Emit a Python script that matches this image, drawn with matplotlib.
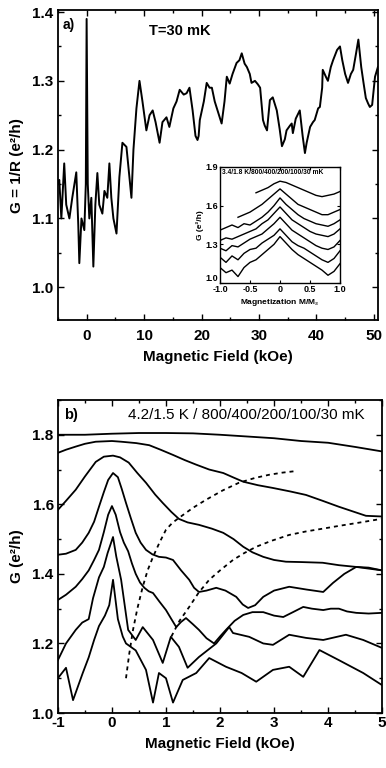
import matplotlib
matplotlib.use("Agg")
import matplotlib.pyplot as plt
from matplotlib.ticker import MultipleLocator

plt.rcParams['font.family'] = ['Liberation Sans', 'DejaVu Sans']

# ---------------- panel a: T = 30 mK, wide field sweep ----------------
field_a = [-5.03, -4.76, -4.4, -3.9, -3.55, -3.0, -2.5, -1.8, -1.45, -1.27, -0.9, -0.4,
           -0.14, 0.0, 0.2, 0.47, 0.82, 1.17, 1.52, 1.87, 2.2, 2.74, 3.1, 3.6, 3.96, 4.3,
           4.66, 5.2, 5.7, 6.23, 6.93, 7.45, 7.8, 8.15, 8.67, 9.2, 9.72, 10.4, 10.95, 11.5,
           12.0, 12.7, 13.2, 13.9, 14.4, 15.1, 15.65, 16.2, 16.9, 17.4, 17.9, 18.45, 18.95,
           19.3, 19.5, 19.7, 20.4, 20.9, 21.4, 21.8, 22.3, 22.6, 23.5, 24.0, 24.4, 24.9,
           25.4, 26.1, 26.6, 27.0, 27.5, 27.9, 28.4, 28.7, 29.3, 29.8, 30.2, 30.7, 31.0,
           31.4, 31.9, 32.4, 33.1, 33.6, 34.0, 34.5, 34.8, 35.4, 35.7, 35.9, 36.4, 37.1,
           37.6, 38.0, 38.3, 38.9, 39.4, 39.7, 40.3, 40.6, 41.0, 41.1, 41.7, 42.0, 42.5,
           42.9, 43.6, 44.1, 44.5, 45.0, 45.5, 46.0, 46.4, 46.9, 47.3, 47.8, 48.2, 48.6,
           49.0, 49.3, 49.7, 50.2, 50.7]
g_a = [1.15, 1.156, 1.10, 1.18, 1.12, 1.10, 1.13, 1.167, 1.09, 1.035, 1.10, 1.083,
       1.15, 1.39, 1.15, 1.10, 1.13, 1.03, 1.12, 1.166, 1.12, 1.107, 1.14, 1.13, 1.18, 1.13,
       1.10, 1.078, 1.16, 1.21, 1.204, 1.16, 1.13, 1.20, 1.26, 1.30, 1.27, 1.228, 1.25, 1.257,
       1.24, 1.21, 1.24, 1.247, 1.233, 1.26, 1.27, 1.287, 1.28, 1.282, 1.29, 1.257, 1.22,
       1.214, 1.22, 1.243, 1.27, 1.297, 1.29, 1.29, 1.27, 1.262, 1.238, 1.27, 1.306, 1.296,
       1.31, 1.326, 1.33, 1.34, 1.325, 1.32, 1.31, 1.297, 1.30, 1.295, 1.29, 1.243, 1.235,
       1.228, 1.272, 1.276, 1.257, 1.23, 1.205, 1.215, 1.228, 1.235, 1.238, 1.224, 1.245, 1.257,
       1.22, 1.195, 1.21, 1.233, 1.24, 1.243, 1.26, 1.262, 1.29, 1.316, 1.305, 1.30, 1.32,
       1.33, 1.345, 1.35, 1.33, 1.31, 1.297, 1.31, 1.316, 1.34, 1.36, 1.32, 1.297, 1.275,
       1.267, 1.262, 1.265, 1.306, 1.32]

# ---------------- inset: G vs magnetization ----------------
m_34 = [-0.4, -0.3, -0.2, -0.1, 0.0, 0.1, 0.2, 0.3, 0.4, 0.5, 0.6, 0.7, 0.8, 0.9, 1.0]
g_34 = [1.70, 1.72, 1.74, 1.77, 1.79, 1.78, 1.76, 1.74, 1.72, 1.70, 1.68, 1.67, 1.68, 1.69, 1.71]
m_18 = [-0.7, -0.6, -0.5, -0.4, -0.3, -0.2, -0.1, 0.0, 0.1, 0.2, 0.3, 0.4, 0.5, 0.6, 0.7, 0.8, 0.9, 1.0]
g_18 = [1.51, 1.53, 1.55, 1.58, 1.61, 1.65, 1.69, 1.73, 1.69, 1.65, 1.61, 1.59, 1.57, 1.55, 1.53, 1.53, 1.55, 1.57]
m_in = [-1.0, -0.9, -0.8, -0.7, -0.6, -0.5, -0.4, -0.3, -0.2, -0.1, 0.0,
        0.1, 0.2, 0.3, 0.4, 0.5, 0.6, 0.7, 0.8, 0.9, 1.0]
g_in_800 = [1.41, 1.43, 1.45, 1.43, 1.46, 1.45, 1.48, 1.51, 1.55, 1.60, 1.66, 1.61, 1.57, 1.53, 1.50, 1.48, 1.46, 1.45, 1.44, 1.46, 1.49]
g_in_400 = [1.33, 1.35, 1.34, 1.36, 1.38, 1.40, 1.42, 1.46, 1.49, 1.54, 1.59, 1.54, 1.49, 1.46, 1.43, 1.40, 1.38, 1.37, 1.36, 1.38, 1.42]
g_in_200 = [1.27, 1.25, 1.29, 1.28, 1.31, 1.34, 1.36, 1.38, 1.42, 1.46, 1.51, 1.46, 1.41, 1.38, 1.35, 1.32, 1.29, 1.27, 1.26, 1.28, 1.33]
g_in_100 = [1.20, 1.16, 1.21, 1.18, 1.23, 1.26, 1.27, 1.31, 1.34, 1.37, 1.42, 1.37, 1.32, 1.29, 1.27, 1.24, 1.21, 1.18, 1.16, 1.19, 1.25]
g_in_30 = [1.12, 1.08, 1.10, 1.05, 1.12, 1.16, 1.18, 1.22, 1.26, 1.30, 1.36, 1.31, 1.26, 1.22, 1.19, 1.16, 1.13, 1.10, 1.06, 1.09, 1.15]

# ---------------- panel b: temperature series ----------------
h_42 = [-1.0, -0.5, 0.0, 0.5, 1.0, 1.5, 2.0, 2.5, 3.0, 3.5, 4.0, 4.5, 5.0]
g_42 = [1.800, 1.800, 1.803, 1.805, 1.805, 1.804, 1.800, 1.795, 1.790, 1.782, 1.777, 1.765, 1.752]
h_15 = [-1.0, -0.85, -0.67, -0.5, -0.3, 0.0, 0.17, 0.45, 0.69, 0.9, 1.13, 1.35, 1.56, 1.8, 2.06,
        2.25, 2.43, 2.7, 2.98, 3.3, 3.59, 3.9, 4.2, 4.45, 4.7, 5.0]
g_15 = [1.748, 1.757, 1.766, 1.774, 1.78, 1.782, 1.78, 1.776, 1.77, 1.757, 1.742, 1.727, 1.714, 1.70, 1.69,
        1.677, 1.665, 1.655, 1.647, 1.637, 1.627, 1.61, 1.593, 1.58, 1.567, 1.565]
h_800 = [-1.0, -0.85, -0.67, -0.5, -0.30, -0.15, 0.02, 0.15, 0.31, 0.47, 0.63, 0.8, 0.94, 1.1, 1.24,
         1.4, 1.61, 1.85, 2.06, 2.25, 2.43, 2.6, 2.80, 3.0, 3.22, 3.5, 3.9, 4.2, 4.52, 5.0]
g_800 = [1.584, 1.61, 1.642, 1.68, 1.722, 1.737, 1.74, 1.735, 1.72, 1.69, 1.662, 1.628, 1.604, 1.578, 1.558,
         1.548, 1.541, 1.53, 1.518, 1.50, 1.478, 1.462, 1.449, 1.44, 1.435, 1.434, 1.432, 1.425, 1.42, 1.41]
h_400 = [-1.0, -0.85, -0.67, -0.55, -0.43, -0.33, -0.24, -0.15, -0.07, 0.02, 0.11, 0.18, 0.26, 0.35,
         0.44, 0.53, 0.63, 0.75, 0.87, 1.0, 1.13, 1.28, 1.43, 1.52, 1.61, 1.75, 1.93, 2.1, 2.30,
         2.42, 2.52, 2.65, 2.80, 3.0, 3.28, 3.6, 3.91, 4.09, 4.3, 4.52, 4.75, 5.0]
g_400 = [1.455, 1.458, 1.469, 1.49, 1.518, 1.55, 1.593, 1.635, 1.67, 1.69, 1.678, 1.645, 1.604, 1.56,
         1.518, 1.49, 1.469, 1.456, 1.449, 1.447, 1.44, 1.41, 1.383, 1.36, 1.348, 1.352, 1.36, 1.352, 1.334,
         1.312, 1.302, 1.31, 1.334, 1.352, 1.363, 1.355, 1.348, 1.374, 1.40, 1.42, 1.418, 1.41]
h_200 = [-1.0, -0.85, -0.67, -0.55, -0.43, -0.33, -0.24, -0.15, -0.07, 0.0, 0.07, 0.15, 0.22, 0.3,
         0.37, 0.44, 0.52, 0.6, 0.68, 0.76, 0.88, 1.0, 1.1, 1.19, 1.28, 1.37, 1.5, 1.61, 1.75, 1.89,
         2.0, 2.11, 2.27, 2.43, 2.6, 2.80, 3.0, 3.17, 3.35, 3.54, 3.7, 3.91, 4.05, 4.2, 4.35, 4.52,
         4.75, 5.0]
g_200 = [1.325, 1.34, 1.363, 1.385, 1.41, 1.44, 1.469, 1.52, 1.57, 1.595, 1.57, 1.52, 1.49, 1.465,
         1.43, 1.40, 1.375, 1.36, 1.35, 1.345, 1.32, 1.296, 1.27, 1.247, 1.262, 1.273, 1.255, 1.239, 1.215, 1.20,
         1.22, 1.239, 1.265, 1.282, 1.29, 1.29, 1.28, 1.276, 1.29, 1.305, 1.30, 1.296, 1.30, 1.30, 1.292, 1.288,
         1.286, 1.288]
h_100 = [-1.0, -0.85, -0.67, -0.55, -0.43, -0.35, -0.24, -0.15, -0.08, 0.02, 0.08, 0.17, 0.3, 0.44,
         0.57, 0.76, 0.94, 1.09, 1.24, 1.4, 1.61, 1.93, 2.17, 2.24, 2.54, 2.8, 2.98, 3.28, 3.59,
         3.91, 4.33, 4.65, 5.0]
g_100 = [1.152, 1.20, 1.239, 1.26, 1.27, 1.33, 1.39, 1.42, 1.46, 1.506, 1.45, 1.383, 1.239, 1.21,
         1.247, 1.21, 1.144, 1.219, 1.19, 1.13, 1.161, 1.20, 1.247, 1.23, 1.219, 1.20, 1.196, 1.225, 1.216,
         1.21, 1.225, 1.21, 1.187]
h_30 = [-1.0, -0.85, -0.72, -0.54, -0.43, -0.33, -0.24, -0.13, -0.05, 0.02, 0.11, 0.2, 0.26, 0.44,
        0.63, 0.76, 0.87, 1.0, 1.13, 1.31, 1.56, 1.8, 2.11, 2.4, 2.67, 2.98, 3.28, 3.54, 3.84,
        4.2, 4.65, 5.0]
g_30 = [1.10, 1.13, 1.037, 1.115, 1.16, 1.21, 1.25, 1.28, 1.31, 1.383, 1.27, 1.22, 1.20, 1.18,
        1.124, 1.03, 1.115, 1.10, 1.03, 1.095, 1.115, 1.158, 1.133, 1.115, 1.09, 1.124, 1.133, 1.104, 1.181,
        1.152, 1.115, 1.08]
h_dot1 = [0.26, 0.32, 0.39, 0.47, 0.57, 0.66, 0.76, 0.88, 1.0, 1.12, 1.24, 1.5, 1.74, 2.05, 2.35,
          2.65, 2.91, 3.15, 3.37]
g_dot1 = [1.10, 1.17, 1.239, 1.30, 1.363, 1.41, 1.449, 1.49, 1.527, 1.547, 1.561, 1.59, 1.613, 1.64, 1.662,
          1.676, 1.685, 1.691, 1.695]
h_dot2 = [1.1, 1.25, 1.43, 1.6, 1.80, 2.0, 2.24, 2.45, 2.67, 2.95, 3.28, 3.59, 3.9, 4.2, 4.6, 4.98]
g_dot2 = [1.22, 1.265, 1.305, 1.345, 1.383, 1.41, 1.44, 1.46, 1.478, 1.495, 1.512, 1.522, 1.53, 1.538, 1.548, 1.558]

fig = plt.figure(figsize=(3.86, 7.68), dpi=100)

def style(ax):
    ax.tick_params(which='both', direction='in', top=True, right=True, width=1.0)
    ax.tick_params(which='major', length=4, pad=3)
    ax.tick_params(which='minor', length=2)
    for s in ax.spines.values():
        s.set_linewidth(1.3)
    for lab in ax.get_xticklabels() + ax.get_yticklabels():
        lab.set_fontsize(11)
        lab.set_fontweight('bold')

# panel a
ax1 = fig.add_axes([0.150, 0.583, 0.829, 0.404])
ax1.plot(field_a, g_a, color='black', lw=1.4)
ax1.set_xlim(-5, 50.7)
ax1.set_ylim(0.952, 1.403)
ax1.yaxis.set_minor_locator(MultipleLocator(0.05))
ax1.xaxis.set_minor_locator(MultipleLocator(5))
ax1.set_yticks([1.0, 1.1, 1.2, 1.3, 1.4])
ax1.set_yticklabels(['1.0', '1.1', '1.2', '1.3', '1.4'])
ax1.set_xticks([0, 10, 20, 30, 40, 50])
style(ax1)
ax1.tick_params(axis='x', pad=6)
ax1.set_xlabel('Magnetic Field (kOe)', fontsize=11, fontweight='bold', labelpad=5)
ax1.set_ylabel('G = 1/R (e²/h)', fontsize=11, fontweight='bold', labelpad=6)
ax1.text(0.015, 0.975, 'a)', transform=ax1.transAxes, fontsize=10, fontweight='bold', va='top')
ax1.text(0.285, 0.955, 'T=30 mK', transform=ax1.transAxes, fontsize=10.5, fontweight='bold', va='top')

# inset
axin = fig.add_axes([220/386, 1-283/768, 120/386, 116/768])
axin.set_facecolor('white')
axin.plot(m_34, g_34, color='black', lw=1.0)
axin.plot(m_18, g_18, color='black', lw=1.0)
for g in (g_in_800, g_in_400, g_in_200, g_in_100, g_in_30):
    axin.plot(m_in, g, color='black', lw=1.0)
axin.set_xlim(-1.0, 1.0)
axin.set_ylim(1.0, 1.9)
axin.set_xticks([-1.0, -0.5, 0, 0.5, 1.0])
axin.set_xticklabels(['-1.0', '-0.5', '0', '0.5', '1.0'])
axin.set_yticks([1.0, 1.3, 1.6, 1.9])
axin.set_yticklabels(['1.0', '1.3', '1.6', '1.9'])
axin.tick_params(direction='in', length=2, pad=1.5, labelsize=6.5, top=True, right=True, width=0.8)
for lab in axin.get_xticklabels() + axin.get_yticklabels():
    lab.set_fontweight('bold')
axin.get_yticklabels()[0].set_verticalalignment('bottom')
for s in axin.spines.values():
    s.set_linewidth(1.0)
axin.set_xlabel('Magnetization M/M$_s$', fontsize=6, fontweight='bold', labelpad=2)
axin.set_ylabel('G (e²/h)', fontsize=6, fontweight='bold', labelpad=1)
axin.text(0.02, 0.985, '3.4/1.8 K/800/400/200/100/30 mK', transform=axin.transAxes,
          fontsize=4.8, fontweight='bold', va='top', ha='left')

# panel b
ax2 = fig.add_axes([0.150, 0.0716, 0.840, 0.4076])
for h, g in ((h_42, g_42), (h_15, g_15), (h_800, g_800), (h_400, g_400),
             (h_200, g_200), (h_100, g_100), (h_30, g_30)):
    ax2.plot(h, g, color='black', lw=1.3)
ax2.plot(h_dot1, g_dot1, color='black', lw=1.3, ls=(0, (2.2, 2.2)))
ax2.plot(h_dot2, g_dot2, color='black', lw=1.3, ls=(0, (2.2, 2.2)))
ax2.set_xlim(-1, 5)
ax2.set_ylim(1.0, 1.9)
ax2.set_xticks([-1, 0, 1, 2, 3, 4, 5])
ax2.set_xticklabels(['-1', '0', '1', '2', '3', '4', '5'])
ax2.set_yticks([1.0, 1.2, 1.4, 1.6, 1.8])
ax2.set_yticklabels(['1.0', '1.2', '1.4', '1.6', '1.8'])
ax2.xaxis.set_minor_locator(MultipleLocator(0.5))
ax2.yaxis.set_minor_locator(MultipleLocator(0.1))
style(ax2)
ax2.tick_params(axis='x', pad=2)
ax2.set_xlabel('Magnetic Field (kOe)', fontsize=11, fontweight='bold', labelpad=5)
ax2.set_ylabel('G (e²/h)', fontsize=11, fontweight='bold', labelpad=6)
ax2.text(0.02, 0.975, 'b)', transform=ax2.transAxes, fontsize=10.5, fontweight='bold', va='top')
ax2.text(0.216, 0.975, '4.2/1.5 K / 800/400/200/100/30 mK', transform=ax2.transAxes,
         fontsize=11, va='top')

fig.savefig('out.png', dpi=100)
